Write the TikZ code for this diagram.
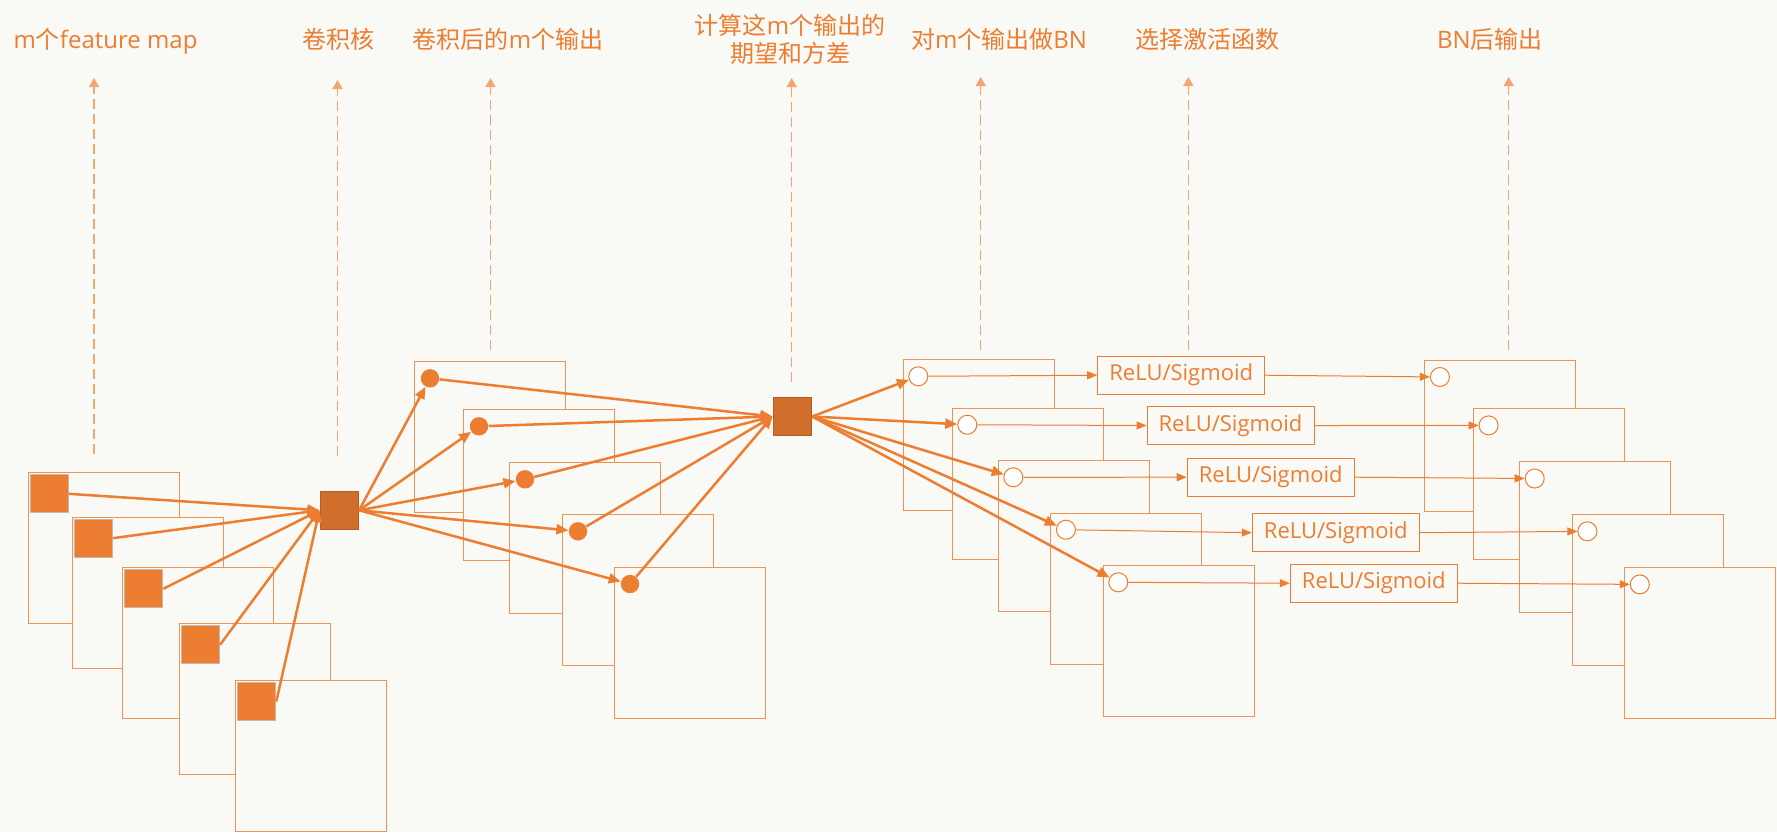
\documentclass[tikz,border=0pt]{standalone}
\usepackage{fontspec}
\setmainfont{Open Sans}
\newfontfamily\cjk{Noto Sans CJK SC}
\usetikzlibrary{arrows.meta}

\definecolor{bnorange}{RGB}{237,125,49}
\definecolor{bndark}{RGB}{208,110,43}
\definecolor{bnline}{RGB}{241,146,85}
\definecolor{bnguide}{RGB}{244,166,112}
\definecolor{bnpaper}{RGB}{249,249,245}

\tikzset{
  fmap/.style={draw=bnline, line width=0.5pt, fill=bnpaper, minimum size=75.5pt, inner sep=0pt, anchor=north west},
  patch/.style={draw={rgb,255:red,196;green,184;blue,172}, line width=0.5pt, fill=bnorange, minimum size=19pt, inner sep=0pt, anchor=north west},
  kern/.style={draw={rgb,255:red,184;green,92;blue,32}, line width=0.5pt, fill=bndark, minimum size=19.3pt, inner sep=0pt},
  dot/.style={circle, fill=bnorange, minimum size=9.2pt, inner sep=0pt},
  ring/.style={circle, draw=bnorange, line width=0.5pt, fill=white, minimum size=9.5pt, inner sep=0pt},
  actbox/.style={draw=bnorange, line width=0.5pt, fill=bnpaper, minimum width=83.5pt, minimum height=19pt, inner sep=0pt, text=bnorange, font=\fontsize{11pt}{13pt}\selectfont},
  headline/.style={text=bnorange, inner sep=0pt, font=\fontsize{12pt}{14pt}\selectfont},
  link/.style={-{Triangle[length=6pt,width=5pt]}, draw=bnorange, line width=1.25pt},
  thinlink/.style={-{Triangle[length=5pt,width=4pt]}, draw=bnorange, line width=0.5pt},
  guide/.style={-{Triangle[length=4.5pt,width=5pt]}, draw=bnguide, line width=0.75pt, dash pattern=on 5pt off 2.5pt},
}

\begin{document}
\begin{tikzpicture}[x=0.5pt, y=-0.5pt]
  \fill[bnpaper] (0,0) rectangle (1777,832);
  \useasboundingbox (0,0) rectangle (1777,832);

  % headings
  \node[headline, anchor=base] (lfm) at (105.6,48) {m{\cjk 个}feature map};
  \node[headline, anchor=base] (lker) at (338,48) {\cjk 卷积核};
  \node[headline, anchor=base] (lconv) at (508,48) {{\cjk 卷积后的}m{\cjk 个输出}};
  \node[headline, align=center] (lstat) at (790,39) {{\cjk 计算这}m{\cjk 个输出的}\\{\cjk 期望和方差}};
  \node[headline, anchor=base] (lbn) at (999,48) {{\cjk 对}m{\cjk 个输出做}BN};
  \node[headline, anchor=base] (lact) at (1207.5,48) {\cjk 选择激活函数};
  \node[headline, anchor=base] (lout) at (1490,48) {BN{\cjk 后输出}};

  % dashed pointers
  \foreach \n/\x/\ya/\yb in {fm/94/454/78, ker/337.5/456/80, conv/490.5/350/78, stat/791.7/382/78,
                             bn/980.7/350/77, act/1188.3/350/77, out/1508.7/350/77} {
    \coordinate (g\n) at (\x,\ya);
    \coordinate (t\n) at (\x,\yb);
    \draw[guide] (g\n) -- (t\n);
  }

  % m feature maps with patches
  \foreach \i/\x/\y in {1/27.7/472.3, 2/71.7/516.7, 3/122.3/567.3, 4/179/623.3, 5/235.3/680} {
    \node[fmap] (fa\i) at (\x,\y) {};
    \node[patch] (pa\i) at (\x+2,\y+2) {};
  }
  \node[kern] (ker) at (339.3,510.3) {};

  % conv outputs
  \foreach \i/\x/\y in {1/414.3/361.3, 2/463.3/409.3, 3/509.3/462.3, 4/562.3/514.3, 5/614.3/567} {
    \node[fmap] (fb\i) at (\x,\y) {};
    \node[dot] (db\i) at (\x+15.7,\y+17) {};
  }
  \node[kern] (stat) at (792.3,416.5) {};

  % BN outputs
  \foreach \i/\x/\y in {1/902.7/359.3, 2/951.7/407.7, 3/997.7/460.3, 4/1050.3/512.7, 5/1102.7/565.3} {
    \node[fmap] (fc\i) at (\x,\y) {};
    \node[ring] (rc\i) at (\x+15.6,\y+17) {};
  }

  % activations
  \foreach \i/\x/\y in {1/1181.2/375.2, 2/1230.5/425.5, 3/1270.7/477.2, 4/1335.8/532.7, 5/1373.8/583.2}
    \node[actbox] (act\i) at (\x,\y) {ReLU/Sigmoid};

  % outputs after BN
  \foreach \i/\x/\y in {1/1424.4/359.8, 2/1473.1/408.2, 3/1519.2/461.3, 4/1571.9/514.1, 5/1624.3/567.2} {
    \node[fmap] (fd\i) at (\x,\y) {};
    \node[ring] (rd\i) at (\x+15.5,\y+17.2) {};
  }

  % connectors
  \foreach \i in {1,...,5} {
    \draw[link] (pa\i.east) -- (ker.west);
    \draw[link] (ker.east) -- (db\i);
    \draw[link] (db\i) -- (stat.west);
    \draw[link] (stat.east) -- (rc\i);
    \draw[thinlink] (rc\i) -- (act\i.west);
    \draw[thinlink] (act\i.east) -- (rd\i);
  }
\end{tikzpicture}
\end{document}
